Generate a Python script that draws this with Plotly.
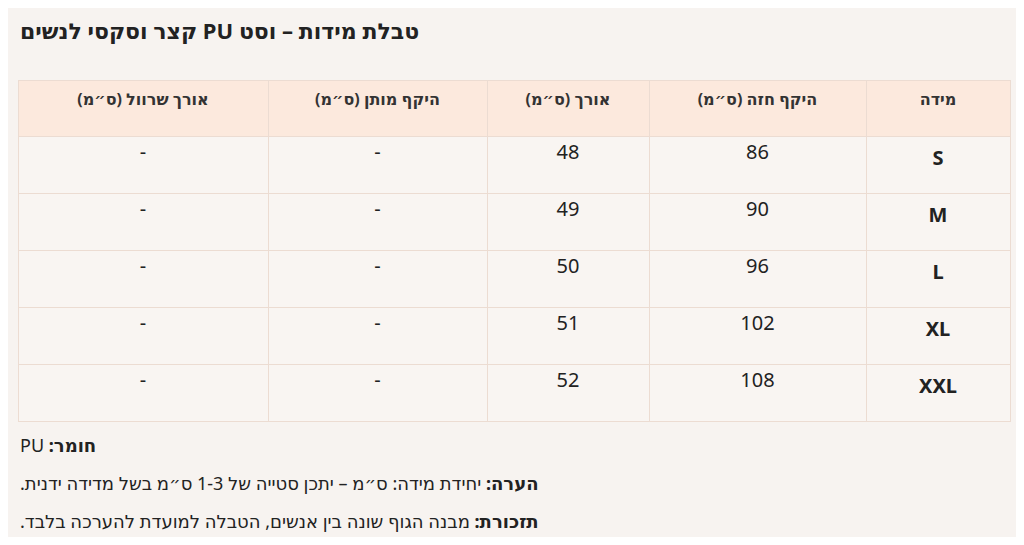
import plotly.graph_objects as go

# page has an 8px body margin, so draw on a slightly smaller canvas
W, H = 1008, 529
OFF = 8

RLE, PDF = "\u202B", "\u202C"

title = "טבלת מידות – וסט PU קצר וסקסי לנשים"
headers = ["אורך שרוול (ס״מ)", "היקף מותן (ס״מ)", "אורך (ס״מ)", "היקף חזה (ס״מ)", "מידה"]
sizes = ["S", "M", "L", "XL", "XXL"]
chest = ["86", "90", "96", "102", "108"]
length = ["48", "49", "50", "51", "52"]
waist = ["-", "-", "-", "-", "-"]
sleeve = ["-", "-", "-", "-", "-"]
notes = [
    "<b>חומר:</b> PU",
    "<b>הערה:</b> יחידת מידה: ס״מ – יתכן סטייה של 1-3 ס״מ בשל מדידה ידנית.",
    "<b>תזכורת:</b> מבנה הגוף שונה בין אנשים, הטבלה למועדת להערכה בלבד.",
]

col_widths = [250, 219, 162, 217, 144]
line_c = "#ecdcd2"
font = "Noto Sans, DejaVu Sans, sans-serif"


def px_x(x):
    return (x - OFF) / W


def px_y(y):
    return 1 - (y - OFF) / H


fig = go.Figure(go.Table(
    columnwidth=col_widths,
    header=dict(
        values=[f"<b>{RLE}{h}{PDF}</b>" for h in headers],
        fill_color="#fce9dd",
        line_color=line_c,
        align="center",
        height=56,
        font=dict(family=font, size=16, color="#333"),
    ),
    cells=dict(
        values=[sleeve, waist, length, chest, [f"<b>{s}</b>" for s in sizes]],
        fill_color="#f9f5f2",
        line_color=line_c,
        align="center",
        height=57,
        font=dict(family=font, size=20, color="#222"),
    ),
    domain=dict(x=[px_x(18), px_x(1010)], y=[0, px_y(80)]),
))

fig.add_annotation(text=f"<b>{RLE}{title}{PDF}</b>", xref="paper", yref="paper",
                   x=px_x(18), y=px_y(30), xanchor="left", yanchor="middle",
                   showarrow=False, font=dict(family=font, size=22, color="#222"))
for i, n in enumerate(notes):
    fig.add_annotation(text=f"{RLE}{n}{PDF}", xref="paper", yref="paper",
                       x=px_x(18), y=px_y(445 + i * 38), xanchor="left", yanchor="middle",
                       showarrow=False, font=dict(family=font, size=18, color="#222"))

fig.update_layout(width=W, height=H, margin=dict(l=0, r=0, t=0, b=0),
                  paper_bgcolor="#f7f3f0", plot_bgcolor="#f7f3f0")
fig.write_html("out.html")
